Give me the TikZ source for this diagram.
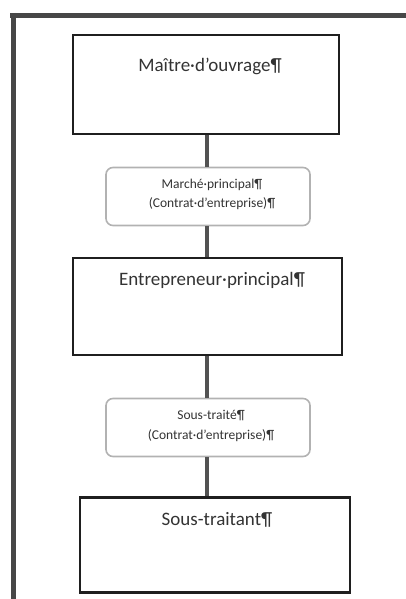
\documentclass[tikz,border=0pt]{standalone}
\usepackage{fontspec}
\setmainfont{Carlito}
\begin{document}
\begin{tikzpicture}[x=1pt, y=-1pt,
  party/.style={draw=black!88, line width=2.6pt, rectangle, inner sep=0pt},
  contract/.style={draw=black!30, line width=1.6pt, rectangle, rounded corners=7pt, inner sep=0pt, minimum width=204pt, minimum height=58pt},
  bigtext/.style={anchor=center, inner sep=0pt, text=black!80, font=\fontsize{19}{22}\selectfont},
  smalltext/.style={anchor=center, inner sep=0pt, text=black!80, align=center, font=\fontsize{13.5}{19.5}\selectfont},
  link/.style={draw=black!68, line width=4.5pt}]
\useasboundingbox (0,0) rectangle (406,599);
\draw[black!72, line width=5pt] (10,15.5) -- (406,15.5);
\draw[black!72, line width=5pt] (13,13) -- (13,599);
\node[party, minimum width=266pt, minimum height=99pt] (maitre) at (206,84.5) {};
\node[bigtext] (maitretxt) at (210,66) {Maître·d’ouvrage¶};
\node[contract] (marche) at (208,196.5) {};
\node[smalltext] (marchetxt) at (212,194.5) {Marché·principal¶\\(Contrat·d’entreprise)¶};
\node[party, minimum width=269pt, minimum height=97pt] (entrepreneur) at (207.5,306.5) {};
\node[bigtext] (entrepreneurtxt) at (212,280) {Entrepreneur·principal¶};
\node[contract] (soustraite) at (208,427.5) {};
\node[smalltext] (soustraitetxt) at (211,426) {Sous-traité¶\\(Contrat·d’entreprise)¶};
\node[party, minimum width=270pt, minimum height=95pt] (soustraitant) at (215,545) {};
\node[bigtext] (soustraitanttxt) at (217,520) {Sous-traitant¶};
\draw[link] (marche.north -| 207,0) -- (maitre.south -| 207,0);
\draw[link] (marche.south -| 207,0) -- (entrepreneur.north -| 207,0);
\draw[link] (entrepreneur.south -| 207,0) -- (soustraite.north -| 207,0);
\draw[link] (soustraite.south -| 207,0) -- (soustraitant.north -| 207,0);
\end{tikzpicture}
\end{document}
